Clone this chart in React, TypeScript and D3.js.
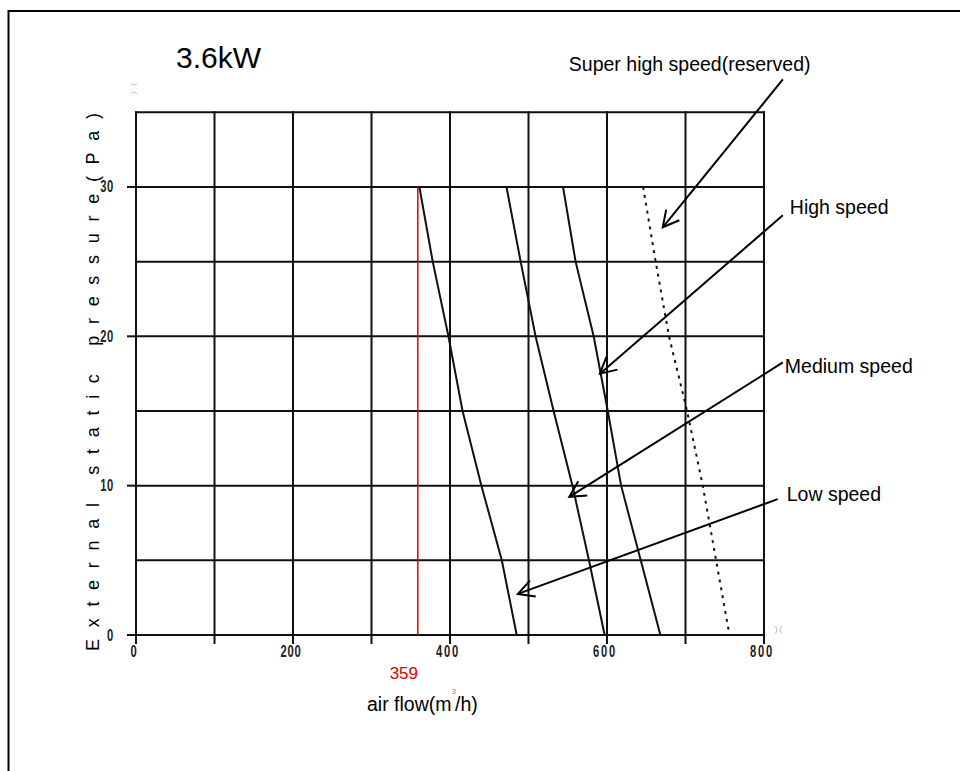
import React from "react";
import * as d3 from "d3";

// Fan curves: external static pressure (Pa) vs air flow (m³/h)
const pressureLevels = [30, 25, 20, 15, 10, 5, 0];
const lowSpeed = [361, 378, 398, 416, 440, 466, 485];
const mediumSpeed = [472, 490, 509, 532, 556, 577, 597];
const highSpeed = [544, 560, 583, 601, 618, 643, 668];
const superHighSpeed = [646, 662, 679, 702, 722, 739, 756];

const ratedAirflow = 359;
const ratedPressure = 30;

const xGridValues = [0, 100, 200, 300, 400, 500, 600, 700, 800];
const xTickLabels = [0, 200, 400, 600, 800];
const yGridValues = [0, 5, 10, 15, 20, 25, 30, 35];
const yTickLabels = [0, 10, 20, 30];

// Callouts: label, arrow tail and arrow tip in data units
const calloutLabels = ["Super high speed(reserved)", "High speed", "Medium speed", "Low speed"];
const calloutTails: [number, number][] = [[824, 37.2], [824, 28.1], [824, 18.25], [817.5, 9.1]];
const calloutTips: [number, number][] = [[671, 27.3], [591, 17.5], [552, 9.25], [486.5, 2.75]];

const W = 960;
const H = 771;

export default function App() {
  const x = d3.scaleLinear().domain([0, 800]).range([136, 764]);
  const y = d3.scaleLinear().domain([0, 35]).range([635, 112.3]);

  const line = d3
    .line<[number, number]>()
    .x((d) => x(d[0]))
    .y((d) => y(d[1]));

  const toPts = (flows: number[]) =>
    flows.map((f, i) => [f, pressureLevels[i]] as [number, number]);

  const series = [
    { values: lowSpeed, dash: undefined },
    { values: mediumSpeed, dash: undefined },
    { values: highSpeed, dash: undefined },
    { values: superHighSpeed, dash: "3 5" },
  ];

  const labelOffsets: [number, number][] = [
    [-214, -8],
    [7, -1],
    [2, 11],
    [9, 2],
  ];

  const arrowHead = (tail: [number, number], tip: [number, number]) => {
    const tx = x(tip[0]);
    const ty = y(tip[1]);
    const ang = Math.atan2(y(tail[1]) - ty, x(tail[0]) - tx);
    const len = 18;
    const spread = (28 * Math.PI) / 180;
    const a1 = ang + spread;
    const a2 = ang - spread;
    return `M${tx + len * Math.cos(a1)},${ty + len * Math.sin(a1)}L${tx},${ty}L${tx + len * Math.cos(a2)},${ty + len * Math.sin(a2)}`;
  };

  const tickFont = "'Liberation Sans', Arial, sans-serif";
  const labelFont = "'Liberation Sans', Arial, sans-serif";
  const squeeze = 0.7;

  return (
    <svg
      width={W}
      height={H}
      style={{ position: "absolute", left: 0, top: 0, background: "#fff" }}
    >
      <rect x={0} y={0} width={W} height={H} fill="#fff" />
      {/* outer frame */}
      <path d={`M8.5,${H}V11H${W}`} fill="none" stroke="#000" strokeWidth={2} />

      {/* title */}
      <text x={176} y={68} fontFamily={labelFont} fontSize={30} fill="#000">
        3.6kW
      </text>

      {/* grid */}
      <g stroke="#111" strokeWidth={2}>
        {yGridValues.map((v) => (
          <line key={`h${v}`} x1={x(0) - 1} x2={x(800) + 1} y1={y(v)} y2={y(v)} />
        ))}
        {xGridValues.map((v) => (
          <line key={`v${v}`} x1={x(v)} x2={x(v)} y1={y(35) - 1} y2={y(0) + 9} />
        ))}
        {yTickLabels.map((v) => (
          <line key={`t${v}`} x1={x(0) - 9} x2={x(0)} y1={y(v)} y2={y(v)} />
        ))}
      </g>

      {/* y tick labels */}
      <g fontFamily={tickFont} fontSize={16} fontWeight="bold" fill="#222" textAnchor="end">
        {yTickLabels.map((v) => (
          <text
            key={v}
            transform={`translate(114,${y(v) + 5.5}) scale(${squeeze},1)`}
            letterSpacing={1}
          >
            {v}
          </text>
        ))}
      </g>

      {/* x tick labels */}
      <g fontFamily={tickFont} fontSize={16} fontWeight="bold" fill="#222" textAnchor="middle">
        {xTickLabels.map((v) => (
          <text
            key={v}
            transform={`translate(${x(v) - 2},${657}) scale(${squeeze},1)`}
            letterSpacing={v >= 400 ? 2.5 : 1}
          >
            {v}
          </text>
        ))}
      </g>

      {/* rated air flow marker */}
      <line
        x1={x(ratedAirflow)}
        x2={x(ratedAirflow)}
        y1={y(0)}
        y2={y(ratedPressure)}
        stroke="#e00000"
        strokeWidth={1.5}
      />
      <text
        x={x(ratedAirflow) - 14}
        y={679}
        fontFamily={labelFont}
        fontSize={17}
        fill="#e00000"
        textAnchor="middle"
      >
        {ratedAirflow}
      </text>

      {/* fan curves */}
      {series.map((s, i) => (
        <path
          key={i}
          d={line(toPts(s.values)) || ""}
          fill="none"
          stroke="#111"
          strokeWidth={2}
          strokeDasharray={s.dash}
        />
      ))}

      {/* callouts */}
      <g stroke="#000" strokeWidth={2} fill="none">
        {calloutTails.map((tail, i) => (
          <g key={i}>
            <line
              x1={x(tail[0])}
              y1={y(tail[1])}
              x2={x(calloutTips[i][0])}
              y2={y(calloutTips[i][1])}
            />
            <path d={arrowHead(tail, calloutTips[i])} />
          </g>
        ))}
      </g>
      <g fontFamily={labelFont} fontSize={19.5} fill="#000">
        {calloutLabels.map((label, i) => (
          <text
            key={label}
            x={x(calloutTails[i][0]) + labelOffsets[i][0]}
            y={y(calloutTails[i][1]) + labelOffsets[i][1]}
          >
            {label}
          </text>
        ))}
      </g>

      {/* axis titles */}
      <text
        transform="translate(99,651) rotate(-90)"
        fontFamily={labelFont}
        fontSize={18}
        letterSpacing={11.7}
        fill="#000"
      >
        External static pressure(Pa)
      </text>
      <text x={367} y={711} fontFamily={labelFont} fontSize={19.5} fill="#000">
        air flow(m
        <tspan fontSize={8} fill="#888" dx={0} dy={-17}>
          3
        </tspan>
        <tspan dx={-1} dy={17}>
          /h)
        </tspan>
      </text>

      {/* small grey handles */}
      <g stroke="#bbb" strokeWidth={1} fill="none">
        <path d="M131,83 Q134,87 137,83 M131,94 Q134,90 137,94" />
        <path d="M775,626 Q779,630 775,634 M782,626 Q778,630 782,634" />
      </g>
    </svg>
  );
}
